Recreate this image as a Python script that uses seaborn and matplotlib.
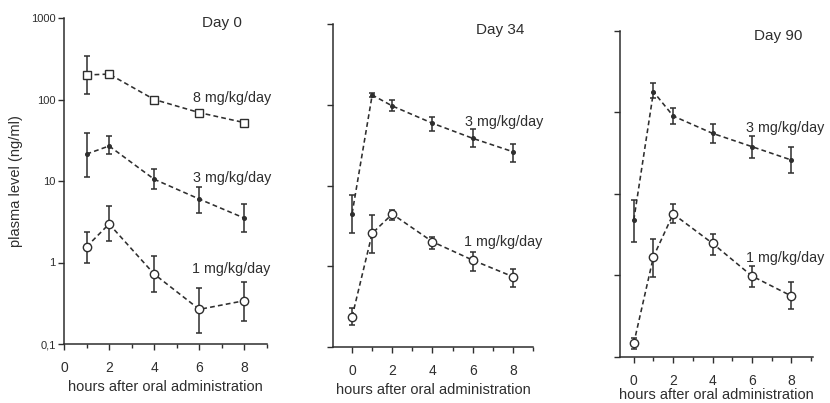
import numpy as np
import pandas as pd
import matplotlib
matplotlib.use("Agg")
import matplotlib.pyplot as plt
import matplotlib.ticker as ticker
import seaborn as sns

nan = np.nan

# sampling times (hours after oral administration)
HOURS_D0 = [1, 2, 4, 6, 8]
HOURS = [0, 1, 2, 4, 6, 8]

# Day 0
D0_8MG = [200, 205, 100, 69, 52]
D0_8MG_LO = [117, nan, nan, nan, nan]
D0_8MG_HI = [340, nan, nan, nan, nan]
D0_3MG = [21.4, 26.9, 10.5, 6.0, 3.5]
D0_3MG_LO = [11.1, 21.4, 7.9, 4.1, 2.35]
D0_3MG_HI = [39, 35.6, 13.9, 8.4, 5.2]
D0_1MG = [1.56, 2.97, 0.72, 0.266, 0.34]
D0_1MG_LO = [0.98, 1.84, 0.44, 0.138, 0.19]
D0_1MG_HI = [2.39, 4.93, 1.2, 0.48, 0.58]

# Day 34
D34_3MG = [4.5, 132, 96.6, 59, 38.4, 26.2]
D34_3MG_LO = [2.56, 124, 83, 47, 30, 19.7]
D34_3MG_HI = [7.6, 140, 114, 71, 49.7, 33]
D34_1MG = [0.237, 2.56, 4.43, 2.01, 1.19, 0.743]
D34_1MG_LO = [0.187, 1.45, 3.74, 1.62, 0.88, 0.558]
D34_1MG_HI = [0.30, 4.3, 4.98, 2.32, 1.49, 0.916]

# Day 90
D90_3MG = [4.76, 178, 89.8, 55, 37.8, 25.9]
D90_3MG_LO = [2.58, 150, 71.6, 41.5, 27.2, 18.1]
D90_3MG_HI = [8.4, 226, 112, 71.6, 51, 37]
D90_1MG = [0.146, 1.69, 5.64, 2.46, 0.977, 0.556]
D90_1MG_LO = [0.123, 0.96, 4.33, 1.77, 0.72, 0.38]
D90_1MG_HI = [0.168, 2.75, 7.48, 3.2, 1.30, 0.83]

DAYS = ["Day 0", "Day 34", "Day 90"]
Y_TICKS = [0.1, 1, 10, 100, 1000]
Y_TICK_LABELS = ["0,1", "1", "10", "100", "1000"]
INK = "#2e2e2e"


def make_frame(day, dose, hours, vals, lo, hi):
    return pd.DataFrame({"day": day, "dose": dose, "hour": hours,
                         "value": vals, "lo": lo, "hi": hi})


df = pd.concat([
    make_frame("Day 0", "8 mg/kg/day", HOURS_D0, D0_8MG, D0_8MG_LO, D0_8MG_HI),
    make_frame("Day 0", "3 mg/kg/day", HOURS_D0, D0_3MG, D0_3MG_LO, D0_3MG_HI),
    make_frame("Day 0", "1 mg/kg/day", HOURS_D0, D0_1MG, D0_1MG_LO, D0_1MG_HI),
    make_frame("Day 34", "3 mg/kg/day", HOURS, D34_3MG, D34_3MG_LO, D34_3MG_HI),
    make_frame("Day 34", "1 mg/kg/day", HOURS, D34_1MG, D34_1MG_LO, D34_1MG_HI),
    make_frame("Day 90", "3 mg/kg/day", HOURS, D90_3MG, D90_3MG_LO, D90_3MG_HI),
    make_frame("Day 90", "1 mg/kg/day", HOURS, D90_1MG, D90_1MG_LO, D90_1MG_HI),
], ignore_index=True)

MARKERS = {
    "8 mg/kg/day": dict(marker="s", markersize=5.5, markerfacecolor="white"),
    "3 mg/kg/day": dict(marker="o", markersize=2.6, markerfacecolor=INK),
    "1 mg/kg/day": dict(marker="o", markersize=6, markerfacecolor="white"),
}

sns.set_style("ticks")
plt.rcParams["font.family"] = ["Liberation Sans", "DejaVu Sans"]
plt.rcParams["text.color"] = INK
plt.rcParams["axes.labelcolor"] = INK
plt.rcParams["xtick.color"] = INK
plt.rcParams["ytick.color"] = INK
plt.rcParams["axes.edgecolor"] = INK

fig = plt.figure(figsize=(8.3, 4.03), dpi=100)

# panel layout: axes rect, xlim, title position, dose label positions
panels = {
    "Day 0": dict(rect=[64 / 830, 59 / 403, 203 / 830, 326 / 403], xlim=(0, 9),
                  title=(7.0, 870), xpad=3,
                  labels={"8 mg/kg/day": (5.72, 104), "3 mg/kg/day": (5.72, 10.9),
                          "1 mg/kg/day": (5.68, 0.83)}),
    "Day 34": dict(rect=[333 / 830, 56 / 403, 200 / 830, 323 / 403], xlim=(-0.95, 9),
                   title=(7.38, 843), xpad=3,
                   labels={"3 mg/kg/day": (5.6, 61), "1 mg/kg/day": (5.55, 2.0)}),
    "Day 90": dict(rect=[620 / 830, 46.3 / 403, 193 / 830, 326 / 403], xlim=(-0.7, 9.1),
                   title=(7.31, 851), xpad=0,
                   labels={"3 mg/kg/day": (5.7, 64), "1 mg/kg/day": (5.7, 1.63)}),
}

for i, day in enumerate(DAYS):
    p = panels[day]
    ax = fig.add_axes(p["rect"])
    sub_day = df[df["day"] == day]
    for dose, sub in sub_day.groupby("dose", sort=False):
        eb = sub.dropna(subset=["lo", "hi"])
        ax.errorbar(eb["hour"], eb["value"],
                    yerr=[eb["value"] - eb["lo"], eb["hi"] - eb["value"]],
                    fmt="none", ecolor=INK, elinewidth=1.1, capsize=2.5,
                    capthick=1.1, zorder=2)
        sns.lineplot(data=sub, x="hour", y="value", ax=ax, color=INK,
                     linestyle=(0, (3, 2)), linewidth=1.15, errorbar=None,
                     legend=False, markeredgecolor=INK, markeredgewidth=1.0,
                     zorder=3, **MARKERS[dose])
        lx, ly = p["labels"][dose]
        ax.text(lx, ly, dose, ha="left", va="center", fontsize=10.3,
                clip_on=False)

    ax.set_yscale("log")
    ax.set_ylim(0.1, 1000)
    ax.set_xlim(*p["xlim"])
    ax.yaxis.set_major_locator(ticker.FixedLocator(Y_TICKS))
    ax.yaxis.set_minor_locator(ticker.NullLocator())
    if i == 0:
        ax.set_yticklabels(Y_TICK_LABELS)
        ax.set_ylabel("plasma level (ng/ml)", fontsize=10.5, labelpad=6)
    else:
        ax.set_yticklabels([])
        ax.set_ylabel("")
    ax.xaxis.set_major_locator(ticker.FixedLocator([0, 2, 4, 6, 8]))
    ax.xaxis.set_minor_locator(ticker.MultipleLocator(1))
    ax.tick_params(axis="x", which="major", length=4, width=1.0, labelsize=10, pad=8.5)
    ax.tick_params(axis="x", which="minor", length=3, width=1.0)
    ax.tick_params(axis="y", which="major", length=4, width=1.0, labelsize=8, pad=2)
    ax.set_xlabel("hours after oral administration", fontsize=10.5, labelpad=p["xpad"])
    ax.text(p["title"][0], p["title"][1], day, ha="center", va="center",
            fontsize=11)
    sns.despine(ax=ax)
    for s in ["left", "bottom"]:
        ax.spines[s].set_linewidth(1.1)

fig.savefig("out.png", dpi=100)
